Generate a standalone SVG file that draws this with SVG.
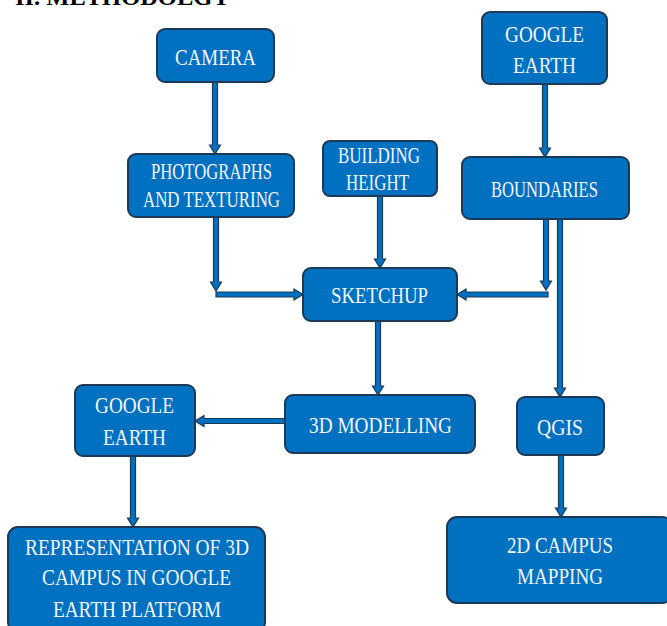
<svg xmlns="http://www.w3.org/2000/svg" width="667" height="626" viewBox="0 0 667 626">
<style>
.box{fill:#0070C0;stroke:#1C3A57;stroke-width:2}
.t{font-family:"Liberation Serif","Times New Roman",serif;font-size:24px;fill:#F2F6FB;text-anchor:middle}
.arr{fill:#0070C0;stroke:#1C3A57;stroke-width:1.2;stroke-linejoin:miter}
.h{font-family:"Liberation Serif","Times New Roman",serif;font-size:24px;font-weight:bold;fill:#000}
</style>
<rect width="667" height="626" fill="#fff"/>
<text class="h" x="15" y="5" textLength="215" lengthAdjust="spacingAndGlyphs">II. METHODOLGY</text>
<g id="connectors">
<polygon class="arr" points="212.5,82 217.5,82 217.5,145 220.5,145 215,154 209.5,145 212.5,145"/>
<polygon class="arr" points="542.5,84 547.5,84 547.5,148 550.5,148 545,157 539.5,148 542.5,148"/>
<polygon class="arr" points="377.5,196 382.5,196 382.5,259 385.5,259 380,268 374.5,259 377.5,259"/>
<polygon class="arr" points="213.5,217 218.5,217 218.5,282 221.5,282 216,291 210.5,282 213.5,282"/>
<polygon class="arr" points="216,292 216,297 294,297 294,300 303,294.5 294,289 294,292"/>
<polygon class="arr" points="543.5,219 548.5,219 548.5,281 551.5,281 546,290 540.5,281 543.5,281"/>
<polygon class="arr" points="548,292 548,297 466,297 466,300 457,294.5 466,289 466,292"/>
<polygon class="arr" points="557.5,219 562.5,219 562.5,388 565.5,388 560,397 554.5,388 557.5,388"/>
<polygon class="arr" points="375.5,321 380.5,321 380.5,386 383.5,386 378,395 372.5,386 375.5,386"/>
<polygon class="arr" points="285,418.5 285,423.5 204,423.5 204,426.5 195,421 204,415.5 204,418.5"/>
<polygon class="arr" points="130.5,456 135.5,456 135.5,518 138.5,518 133,527 127.5,518 130.5,518"/>
<polygon class="arr" points="558.5,455 563.5,455 563.5,508 566.5,508 561,517 555.5,508 558.5,508"/>
</g>
<g id="camera">
<rect class="box" x="157" y="29" width="117" height="53" rx="8"/>
<text class="t" x="215.5" y="65" textLength="81" lengthAdjust="spacingAndGlyphs">CAMERA</text>
</g>
<g id="google-earth-top">
<rect class="box" x="482" y="12" width="125" height="72" rx="8"/>
<text class="t" x="544.5" y="42" textLength="79" lengthAdjust="spacingAndGlyphs">GOOGLE</text>
<text class="t" x="544.5" y="73" textLength="63" lengthAdjust="spacingAndGlyphs">EARTH</text>
</g>
<g id="photographs">
<rect class="box" x="128" y="154" width="166" height="63" rx="8"/>
<text class="t" x="211.5" y="179" textLength="121" lengthAdjust="spacingAndGlyphs">PHOTOGRAPHS</text>
<text class="t" x="211.5" y="207" textLength="137" lengthAdjust="spacingAndGlyphs">AND TEXTURING</text>
</g>
<g id="building-height">
<rect class="box" x="323" y="141" width="114" height="55" rx="7"/>
<text class="t" x="379" y="163" textLength="82" lengthAdjust="spacingAndGlyphs">BUILDING</text>
<text class="t" x="377.5" y="190" textLength="63" lengthAdjust="spacingAndGlyphs">HEIGHT</text>
</g>
<g id="boundaries">
<rect class="box" x="462" y="157" width="167" height="62" rx="8"/>
<text class="t" x="544.5" y="197" textLength="107" lengthAdjust="spacingAndGlyphs">BOUNDARIES</text>
</g>
<g id="sketchup">
<rect class="box" x="303" y="268" width="154" height="53" rx="8"/>
<text class="t" x="379.5" y="303" textLength="97" lengthAdjust="spacingAndGlyphs">SKETCHUP</text>
</g>
<g id="modelling">
<rect class="box" x="285" y="395" width="190" height="58" rx="8"/>
<text class="t" x="380.5" y="433" textLength="143" lengthAdjust="spacingAndGlyphs">3D MODELLING</text>
</g>
<g id="google-earth-bottom">
<rect class="box" x="75" y="385" width="120" height="71" rx="8"/>
<text class="t" x="134.5" y="413" textLength="79" lengthAdjust="spacingAndGlyphs">GOOGLE</text>
<text class="t" x="134.5" y="445" textLength="63" lengthAdjust="spacingAndGlyphs">EARTH</text>
</g>
<g id="qgis">
<rect class="box" x="517" y="397" width="87" height="58" rx="8"/>
<text class="t" x="560" y="435" textLength="46" lengthAdjust="spacingAndGlyphs">QGIS</text>
</g>
<g id="representation">
<rect class="box" x="8" y="527" width="257" height="105" rx="10"/>
<text class="t" x="137" y="555" textLength="224" lengthAdjust="spacingAndGlyphs">REPRESENTATION OF 3D</text>
<text class="t" x="136.5" y="585" textLength="189" lengthAdjust="spacingAndGlyphs">CAMPUS IN GOOGLE</text>
<text class="t" x="137" y="617" textLength="168" lengthAdjust="spacingAndGlyphs">EARTH PLATFORM</text>
</g>
<g id="campus-mapping">
<rect class="box" x="447" y="517" width="225" height="86" rx="10"/>
<text class="t" x="560" y="553" textLength="106" lengthAdjust="spacingAndGlyphs">2D CAMPUS</text>
<text class="t" x="560" y="584" textLength="86" lengthAdjust="spacingAndGlyphs">MAPPING</text>
</g>
</svg>
